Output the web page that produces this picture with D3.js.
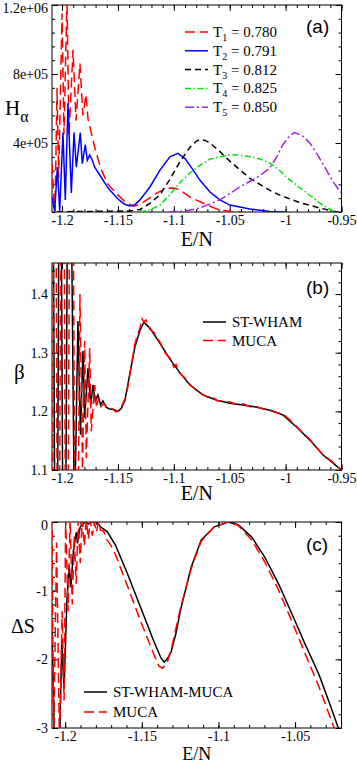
<!DOCTYPE html>
<html>
<head>
<meta charset="utf-8">
<script src="https://cdn.jsdelivr.net/npm/d3@7"></script>
<style>
  body { margin: 0; background: #fff; }
  svg { display: block; }
  svg text { font-family: "Liberation Serif", "Times New Roman", serif; }
  svg text.letter { font-family: "Liberation Sans", Arial, sans-serif; }
</style>
</head>
<body>
<div id="chart"></div>
<script>
// ---- panel (a): histograms H_alpha(E/N), values in units of 1e5 ----
const temps = ["0.780", "0.791", "0.812", "0.825", "0.850"];
const histT1 = [[-1.2090, 2.8], [-1.2075, 1.0], [-1.2063, 0], [-1.2045, 7.2], [-1.2030, 2.0], [-1.2000, 11.5], [-1.1983, 4.5], [-1.1956, 12.4], [-1.1938, 4.4], [-1.1902, 9.4], [-1.1875, 5.3], [-1.1840, 8.6], [-1.1813, 5.6], [-1.1786, 6.8], [-1.1768, 5.4], [-1.1706, 3.7], [-1.1652, 2.5], [-1.1589, 1.6], [-1.1482, 0.87], [-1.1437, 0.6], [-1.1360, 0.33], [-1.1300, 0.45], [-1.1214, 0.82], [-1.1154, 1.1], [-1.1090, 1.3], [-1.1035, 1.39], [-1.0990, 1.38], [-1.0946, 1.28], [-1.0856, 0.87], [-1.0740, 0.52], [-1.0615, 0.17], [-1.0499, 0.03], [-1.0400, 0]];
const histT2 = [[-1.2090, 0.87], [-1.2066, 0.05], [-1.2042, 2.6], [-1.2021, 0.05], [-1.1992, 4.6], [-1.1971, 0.7], [-1.1947, 6.3], [-1.1917, 1.1], [-1.1893, 4.6], [-1.1872, 2.6], [-1.1837, 4.6], [-1.1819, 2.8], [-1.1792, 3.9], [-1.1774, 3.0], [-1.1753, 3.3], [-1.1729, 3.0], [-1.1708, 2.6], [-1.1649, 2.0], [-1.1589, 1.4], [-1.1535, 1.0], [-1.1490, 0.7], [-1.1440, 0.45], [-1.1393, 0.35], [-1.1350, 0.42], [-1.1303, 0.7], [-1.1214, 1.45], [-1.1124, 2.43], [-1.1035, 3.2], [-1.0964, 3.4], [-1.0900, 3.1], [-1.0856, 2.7], [-1.0767, 1.85], [-1.0677, 1.16], [-1.0588, 0.7], [-1.0499, 0.4], [-1.0320, 0.17], [-1.0141, 0.03], [-1.0000, 0]];
const histT3 = [[-1.2045, 0], [-1.1900, 0.03], [-1.1600, 0.04], [-1.1400, 0.06], [-1.1303, 0.15], [-1.1214, 0.5], [-1.1124, 1.0], [-1.1035, 1.9], [-1.0946, 2.9], [-1.0856, 3.75], [-1.0800, 4.1], [-1.0767, 4.2], [-1.0720, 4.15], [-1.0677, 4.0], [-1.0588, 3.5], [-1.0499, 2.95], [-1.0409, 2.45], [-1.0320, 1.95], [-1.0230, 1.6], [-1.0141, 1.25], [-1.0052, 0.98], [-0.9918, 0.65], [-0.9846, 0.5], [-0.9694, 0.23], [-0.9578, 0.05], [-0.9530, 0]];
const histT4 = [[-1.1303, 0], [-1.1214, 0.12], [-1.1124, 0.4], [-1.1035, 1.0], [-1.0946, 1.7], [-1.0856, 2.26], [-1.0767, 2.7], [-1.0677, 3.07], [-1.0588, 3.2], [-1.0499, 3.3], [-1.0409, 3.3], [-1.0320, 3.2], [-1.0230, 3.07], [-1.0141, 2.84], [-1.0052, 2.4], [-0.9989, 2.0], [-0.9846, 1.28], [-0.9694, 0.52], [-0.9578, 0.05], [-0.9550, 0]];
const histT5 = [[-1.1050, 0], [-1.0900, 0.05], [-1.0767, 0.23], [-1.0588, 0.7], [-1.0409, 1.45], [-1.0230, 2.1], [-1.0141, 2.55], [-1.0079, 3.2], [-1.0025, 3.9], [-0.9960, 4.45], [-0.9918, 4.6], [-0.9846, 4.4], [-0.9783, 4.0], [-0.9712, 3.3], [-0.9632, 2.4], [-0.9570, 1.7], [-0.9500, 1.1]];
const histTickVals = [4, 8, 12];
const histTickLabels = ["4e+05", "8e+05", "1.2e+06"];

// ---- panel (b): beta(E/N) ----
const betaWham = [[-1.2090, 2.0], [-1.2052, 0.5], [-1.2018, 2.0], [-1.1981, 0.5], [-1.1940, 2.0], [-1.1889, 1.0], [-1.1858, 1.354], [-1.1835, 1.16], [-1.1813, 1.303], [-1.1798, 1.189], [-1.1768, 1.274], [-1.1744, 1.211], [-1.1723, 1.245], [-1.1703, 1.218], [-1.1679, 1.228], [-1.1655, 1.211], [-1.1634, 1.218], [-1.1607, 1.207], [-1.1574, 1.204], [-1.1540, 1.203], [-1.1500, 1.200], [-1.1470, 1.205], [-1.1437, 1.219], [-1.1393, 1.265], [-1.1348, 1.31], [-1.1303, 1.338], [-1.1268, 1.352], [-1.1214, 1.342], [-1.1124, 1.316], [-1.1035, 1.289], [-1.0946, 1.266], [-1.0856, 1.245], [-1.0740, 1.228], [-1.0615, 1.219], [-1.0499, 1.214], [-1.0382, 1.211], [-1.0257, 1.207], [-1.0141, 1.202], [-1.0025, 1.194], [-0.9900, 1.173], [-0.9783, 1.151], [-0.9667, 1.126], [-0.9500, 1.100]];
const betaMuca = [[-1.2090, 0.5], [-1.2066, 2.2], [-1.2034, 0.5], [-1.1996, 2.2], [-1.1959, 0.5], [-1.1917, 2.2], [-1.1875, 0.6], [-1.1840, 1.40], [-1.1817, 1.10], [-1.1798, 1.32], [-1.1783, 1.12], [-1.1753, 1.308], [-1.1739, 1.166], [-1.1708, 1.245], [-1.1692, 1.206], [-1.1674, 1.223], [-1.1652, 1.208], [-1.1625, 1.213], [-1.1589, 1.204], [-1.1550, 1.205], [-1.1520, 1.199], [-1.1500, 1.201], [-1.1470, 1.207], [-1.1437, 1.222], [-1.1415, 1.238], [-1.1393, 1.262], [-1.1370, 1.290], [-1.1348, 1.315], [-1.1325, 1.330], [-1.1303, 1.342], [-1.1285, 1.358], [-1.1268, 1.352], [-1.1250, 1.356], [-1.1214, 1.340], [-1.1180, 1.335], [-1.1124, 1.318], [-1.1080, 1.300], [-1.1035, 1.291], [-1.1000, 1.275], [-1.0980, 1.280], [-1.0946, 1.265], [-1.0900, 1.257], [-1.0856, 1.246], [-1.0800, 1.236], [-1.0740, 1.229], [-1.0700, 1.224], [-1.0660, 1.226], [-1.0615, 1.218], [-1.0560, 1.218], [-1.0499, 1.216], [-1.0440, 1.212], [-1.0382, 1.213], [-1.0320, 1.208], [-1.0257, 1.208], [-1.0200, 1.204], [-1.0141, 1.203], [-1.0080, 1.198], [-1.0025, 1.196], [-0.9960, 1.185], [-0.9900, 1.174], [-0.9840, 1.162], [-0.9783, 1.152], [-0.9720, 1.138], [-0.9667, 1.126], [-0.9600, 1.117], [-0.9500, 1.100]];

// ---- panel (c): delta S(E/N) ----
const dsWhamMuca = [[-1.2086, -1.59], [-1.2077, -2.43], [-1.2070, -3.3], [-1.2037, -3.3], [-1.2022, -1.78], [-1.2007, -2.43], [-1.1989, -1.15], [-1.1974, -0.63], [-1.1963, -0.95], [-1.1946, -0.41], [-1.1928, -0.15], [-1.1920, -0.31], [-1.1902, -0.07], [-1.1869, 0.0], [-1.1849, -0.03], [-1.1829, 0.0], [-1.1792, 0.0], [-1.1770, -0.07], [-1.1726, -0.14], [-1.1671, -0.34], [-1.1594, -0.75], [-1.1507, -1.25], [-1.1421, -1.74], [-1.1375, -1.98], [-1.1354, -2.04], [-1.1336, -2.0], [-1.1310, -1.90], [-1.1277, -1.62], [-1.1244, -1.25], [-1.1178, -0.66], [-1.1112, -0.26], [-1.1027, -0.07], [-1.0936, 0.0], [-1.0871, -0.04], [-1.0783, -0.22], [-1.0698, -0.51], [-1.0608, -0.9], [-1.0520, -1.34], [-1.0434, -1.78], [-1.0344, -2.22], [-1.0278, -2.62], [-1.0213, -3.03], [-1.0190, -3.15]];
const dsMuca = [[-1.2086, 0.1], [-1.2076, -3.3], [-1.2056, -0.3], [-1.2037, -3.3], [-1.2020, -1.3], [-1.2007, -2.6], [-1.1997, 0.05], [-1.1981, -1.3], [-1.1968, 0.05], [-1.1954, -1.2], [-1.1941, -0.2], [-1.1928, -0.9], [-1.1915, 0.03], [-1.1902, -0.6], [-1.1889, 0.03], [-1.1875, -0.35], [-1.1862, 0.03], [-1.1849, -0.25], [-1.1836, 0.03], [-1.1823, -0.2], [-1.1810, 0.0], [-1.1796, -0.15], [-1.1783, 0.0], [-1.1770, -0.12], [-1.1750, -0.13], [-1.1731, -0.25], [-1.1704, -0.33], [-1.1671, -0.48], [-1.1594, -0.93], [-1.1507, -1.45], [-1.1421, -1.93], [-1.1388, -2.1], [-1.1364, -2.13], [-1.1336, -2.05], [-1.1310, -1.88], [-1.1277, -1.55], [-1.1244, -1.22], [-1.1178, -0.68], [-1.1112, -0.28], [-1.1027, -0.07], [-1.0936, 0.0], [-1.0871, -0.05], [-1.0783, -0.26], [-1.0698, -0.58], [-1.0608, -0.99], [-1.0520, -1.45], [-1.0434, -1.92], [-1.0344, -2.4], [-1.0278, -2.8], [-1.0237, -3.05], [-1.0210, -3.2]];

// ticks
const xTicksAB = [-1.2, -1.15, -1.1, -1.05, -1, -0.95];
const xLabelsAB = ["-1.2", "-1.15", "-1.1", "-1.05", "-1", "-0.95"];
const xTicksC = [-1.2, -1.15, -1.1, -1.05];
const xLabelsC = ["-1.2", "-1.15", "-1.1", "-1.05"];
const betaTicks = [1.1, 1.2, 1.3, 1.4];
const betaLabels = ["1.1", "1.2", "1.3", "1.4"];
const dsTicks = [-3, -2, -1, 0];
const dsLabels = ["-3", "-2", "-1", "0"];

const W = 357, H = 763;
const left = 52, right = 341.5;
const serif = "'Liberation Serif', 'Times New Roman', serif";

const svg = d3.select("#chart").append("svg")
  .attr("width", W)
  .attr("height", H);

const minors = (a, b, step) => d3.range(Math.round(a / step), Math.round(b / step) + 1).map((k) => +(k * step).toFixed(6));

function drawPanel(p) {
  const x = d3.scaleLinear().domain(p.xDomain).range([left, right]);
  const y = d3.scaleLinear().domain(p.yDomain).range([p.bottom, p.top]);
  const g = svg.append("g");

  const xMin = minors(p.xDomain[0], p.xDomain[1], 0.01).filter((v) => v >= p.xDomain[0] && v <= p.xDomain[1]);
  const yMin = minors(p.yDomain[0], p.yDomain[1], p.yMinorStep).filter((v) => v >= p.yDomain[0] && v <= p.yDomain[1]);

  const style = (sel) => {
    sel.select(".domain").remove();
    sel.selectAll("line").attr("stroke", "#000");
    sel.attr("font-family", serif).attr("font-size", 14);
    sel.selectAll("text").attr("fill", "#000").style("font-family", serif);
  };

  // bottom
  g.append("g").attr("transform", `translate(0,${p.bottom})`)
    .call(d3.axisBottom(x).tickValues(xMin).tickSize(-3).tickFormat("")).call(style);
  g.append("g").attr("transform", `translate(0,${p.bottom})`)
    .call(d3.axisBottom(x).tickValues(p.xTicks).tickSize(-6).tickPadding(3)
      .tickFormat((d, i) => p.xLabels[i])).call(style);
  // top
  g.append("g").attr("transform", `translate(0,${p.top})`)
    .call(d3.axisTop(x).tickValues(xMin).tickSize(-3).tickFormat("")).call(style);
  g.append("g").attr("transform", `translate(0,${p.top})`)
    .call(d3.axisTop(x).tickValues(p.xTicks).tickSize(-6).tickFormat("")).call(style);
  // left
  g.append("g").attr("transform", `translate(${left},0)`)
    .call(d3.axisLeft(y).tickValues(yMin).tickSize(-3).tickFormat("")).call(style);
  const yAx = g.append("g").attr("transform", `translate(${left},0)`)
    .call(d3.axisLeft(y).tickValues(p.yTicks).tickSize(-6).tickPadding(4)
      .tickFormat((d, i) => p.yLabels[i])).call(style);
  // keep the top label inside the page
  yAx.selectAll("text").filter((d) => y(d) < p.top + 4).attr("dy", "0.5em");
  // right
  g.append("g").attr("transform", `translate(${right},0)`)
    .call(d3.axisRight(y).tickValues(yMin).tickSize(-3).tickFormat("")).call(style);
  g.append("g").attr("transform", `translate(${right},0)`)
    .call(d3.axisRight(y).tickValues(p.yTicks).tickSize(-6).tickFormat("")).call(style);

  g.append("rect")
    .attr("x", left).attr("y", p.top)
    .attr("width", right - left).attr("height", p.bottom - p.top)
    .attr("fill", "none").attr("stroke", "#000").attr("stroke-width", 1);

  svg.append("clipPath").attr("id", p.id)
    .append("rect")
    .attr("x", left).attr("y", p.top)
    .attr("width", right - left).attr("height", p.bottom - p.top);

  const plot = svg.append("g").attr("clip-path", `url(#${p.id})`);
  const line = d3.line().x((d) => x(d[0])).y((d) => y(d[1]));

  p.series.forEach((s) => {
    plot.append("path")
      .datum(s.data)
      .attr("d", line)
      .attr("fill", "none")
      .attr("stroke", s.color)
      .attr("stroke-width", 1.5)
      .attr("stroke-dasharray", s.dash || null);
  });

  // x title
  svg.append("text")
    .attr("x", (left + right) / 2).attr("y", p.xTitleY)
    .attr("text-anchor", "middle")
    .attr("font-size", p.xTitleSize)
    .text("E/N");

  // panel letter
  svg.append("text")
    .attr("class", "letter")
    .attr("x", 306).attr("y", p.letterY)
    .attr("font-size", 19)
    .text(p.letter);

  return { x, y };
}

const histSeries = [
  { data: histT1, color: "#ff0000", dash: "10,5" },
  { data: histT2, color: "#0000ff" },
  { data: histT3, color: "#000000", dash: "6,4" },
  { data: histT4, color: "#00e600", dash: "6,2.5,1.5,2.5" },
  { data: histT5, color: "#9b26d9", dash: "9,3,2,3" },
];

drawPanel({
  id: "clipA", top: 5, bottom: 212,
  xDomain: [-1.209, -0.95], yDomain: [0, 12], yMinorStep: 0.8,
  xTicks: xTicksAB, xLabels: xLabelsAB,
  yTicks: histTickVals, yLabels: histTickLabels,
  series: histSeries, xTitleY: 246, xTitleSize: 20, letter: "(a)", letterY: 33,
});

drawPanel({
  id: "clipB", top: 263, bottom: 470,
  xDomain: [-1.209, -0.95], yDomain: [1.1, 1.453], yMinorStep: 0.02,
  xTicks: xTicksAB, xLabels: xLabelsAB,
  yTicks: betaTicks, yLabels: betaLabels,
  series: [
    { data: betaWham, color: "#000000" },
    { data: betaMuca, color: "#ff0000", dash: "10,5" },
  ],
  xTitleY: 500, xTitleSize: 20, letter: "(b)", letterY: 294,
});

drawPanel({
  id: "clipC", top: 522, bottom: 728,
  xDomain: [-1.2086, -1.0197], yDomain: [-3, 0], yMinorStep: 0.2,
  xTicks: xTicksC, xLabels: xLabelsC,
  yTicks: dsTicks, yLabels: dsLabels,
  series: [
    { data: dsWhamMuca, color: "#000000" },
    { data: dsMuca, color: "#ff0000", dash: "10,5" },
  ],
  xTitleY: 759.5, xTitleSize: 18, letter: "(c)", letterY: 551,
});

// y titles
const hTitle = svg.append("text").attr("x", 5).attr("y", 115).attr("font-size", 21);
hTitle.append("tspan").text("H");
hTitle.append("tspan").attr("font-size", 16).attr("dy", 7).text("α");

svg.append("text").attr("x", 14).attr("y", 379).attr("font-size", 21).text("β");
svg.append("text").attr("x", 11).attr("y", 633).attr("font-size", 20).text("ΔS");

// legend (a)
const legA = svg.append("g");
histSeries.forEach((s, i) => {
  const ly = 32 + i * 18.8;
  legA.append("line")
    .attr("x1", 185).attr("x2", 208).attr("y1", ly).attr("y2", ly)
    .attr("stroke", s.color).attr("stroke-width", 1.5)
    .attr("stroke-dasharray", s.dash || null);
  const t = legA.append("text").attr("x", 213).attr("y", ly + 5).attr("font-size", 15);
  t.append("tspan").text("T");
  t.append("tspan").attr("font-size", 10).attr("dy", 4).text(i + 1);
  t.append("tspan").attr("dy", -4).text(" = " + temps[i]);
});

// legend (b) and (c)
function twoLegend(x0, y0, gap, names, styles) {
  names.forEach((name, i) => {
    const ly = y0 + i * gap;
    svg.append("line")
      .attr("x1", x0).attr("x2", x0 + 23).attr("y1", ly).attr("y2", ly)
      .attr("stroke", styles[i].color).attr("stroke-width", 1.5)
      .attr("stroke-dasharray", styles[i].dash || null);
    svg.append("text").attr("x", x0 + 29).attr("y", ly + 5)
      .attr("font-size", 15).text(name);
  });
}
const legendStyles = [{ color: "#000000" }, { color: "#ff0000", dash: "10,5" }];
twoLegend(203, 322, 18.5, ["ST-WHAM", "MUCA"], legendStyles);
twoLegend(84, 692, 20, ["ST-WHAM-MUCA", "MUCA"], legendStyles);
</script>
</body>
</html>
